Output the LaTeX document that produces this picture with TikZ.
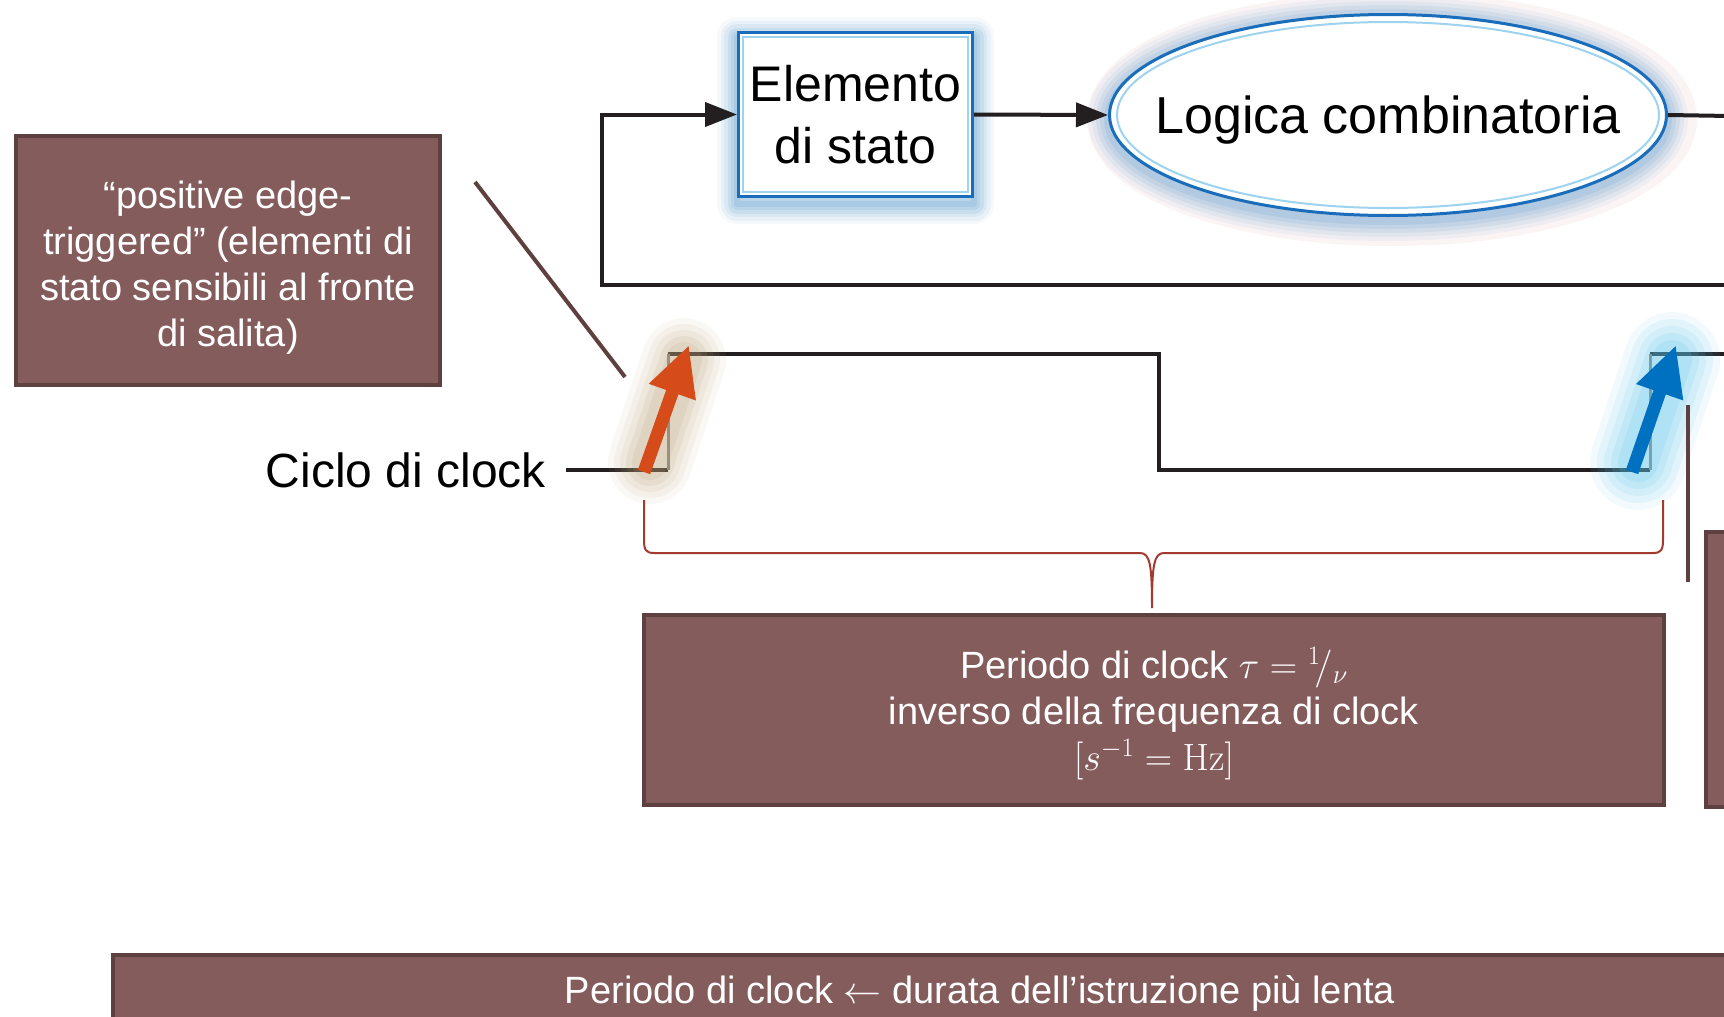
\RequirePackage{fix-cm}
\documentclass[tikz,border=0pt]{standalone}
\usepackage[no-math]{fontspec}
\setmainfont{Liberation Sans}
\usetikzlibrary{arrows.meta,shapes.geometric,calc}
\definecolor{boxfill}{HTML}{845C5C}
\definecolor{boxline}{HTML}{5E4040}
\definecolor{ink}{HTML}{231F20}
\definecolor{bluedark}{HTML}{1A6DBA}
\definecolor{bluelight}{HTML}{9ED3F0}
\definecolor{glowblue}{HTML}{5A9ACB}
\definecolor{glowpink}{HTML}{E0A8A8}
\definecolor{orangearr}{HTML}{D54B1A}
\definecolor{glowtan}{HTML}{BBA07A}
\definecolor{bluearr}{HTML}{0070C0}
\definecolor{glowcyan}{HTML}{5CC8F0}
\definecolor{bracered}{HTML}{A33A30}
\definecolor{edgegrey}{HTML}{8A8580}
\begin{document}
\begin{tikzpicture}[x=1pt,y=-1pt,
  note/.style={draw=boxline, fill=boxfill, line width=4pt, text=white, align=center,
    inner sep=0pt, font=\fontsize{38}{46}\selectfont},
  flow/.style={draw=ink, line width=4pt},
  arr/.style={flow, -{Triangle[length=32pt,width=24pt]}},
  wave/.style={draw=ink, line width=4pt, line join=miter},
  leader/.style={draw=boxline, line width=4pt},
  brace/.style={draw=bracered, line width=2pt},
  glowline/.style={line join=round, line cap=round},
  elembox/.style={draw=bluedark, line width=3pt, fill=white, minimum width=234pt,
    minimum height=164pt, inner sep=0pt, align=center, font=\fontsize{50}{62}\selectfont},
  logicshape/.style={ellipse, draw=bluedark, line width=3pt, fill=white,
    minimum width=557pt, minimum height=201pt, inner sep=0pt}
]
\useasboundingbox (0,0) rectangle (1724,1017);
\clip (0,0) rectangle (1724,1017);
\fill[white] (0,0) rectangle (1724,1017);

% glows of the upper shapes
\foreach \w/\o in {40/0.06,33/0.08,26/0.1,19/0.12,12/0.14,6/0.16}
  \draw[glowline, glowblue, opacity=\o, line width=\w pt] (737,37) rectangle (974,204);
\draw[glowpink, opacity=0.12, line width=50pt] (1392,119) ellipse [x radius=280, y radius=102];
\foreach \w/\o in {40/0.07,32/0.09,24/0.11,16/0.13,8/0.15}
  \draw[glowblue, opacity=\o, line width=\w pt] (1388,119) ellipse [x radius=280, y radius=102];

% state element and combinational logic
\node[elembox] (elem) at (855.5,114.5) {Elemento\\di stato};
\draw[bluelight, line width=2pt] ([shift={(6,6)}]elem.north west) rectangle ([shift={(-6,-6)}]elem.south east);
\node[logicshape] (logic) at (1388,115) {};
\draw[bluelight, line width=2pt] (logic.center) ellipse [x radius=271, y radius=93];
\node[font=\fontsize{52}{60}\selectfont, anchor=base, inner sep=0pt] (logictext) at (1388,133) {Logica combinatoria};

% data path connectors
\coordinate (fbR) at (1730,285);
\coordinate (fbL) at (602,285);
\coordinate (outR) at (1730,116);
\draw[arr] (fbR) -- (fbL) |- (elem.west);
\draw[arr] (elem.east) -- (logic.west);
\draw[flow] (logic.east) -- (outR);

% left note
\node[note, minimum width=424pt, minimum height=249pt] (note1) at (228,260.5)
  {\rule{0pt}{41pt}“positive edge-\\triggered” (elementi di\\stato sensibili al fronte\\di salita)};
\coordinate (ld1) at (475,182);
\coordinate (ld2) at (625,377);
\draw[leader] (ld1) -- (ld2);

% clock
\node[font=\fontsize{48}{56}\selectfont, anchor=base east, inner sep=0pt] (clk) at (546,487) {Ciclo di clock};
\coordinate (ck0) at (566,470);
\coordinate (ck1) at (668,470);
\coordinate (ck2) at (668,354);
\coordinate (ck3) at (1159,354);
\coordinate (ck4) at (1159,470);
\coordinate (ck5) at (1650,470);
\coordinate (ck6) at (1650,354);
\coordinate (ck7) at (1730,354);
\draw[wave] (ck0) -- (ck1);
\draw[wave] (ck2) -- (ck3) -- (ck4) -- (ck5);
\draw[wave] (ck6) -- (ck7);
\draw[edgegrey, line width=3pt] (ck1) -- (ck2);
\draw[edgegrey, line width=3pt] (ck5) -- (ck6);

% arrow glows
\foreach \w/\o in {84/0.07,72/0.09,60/0.11,48/0.13,36/0.15}
  \draw[glowtan, opacity=\o, line width=\w pt, line cap=round] (650,462) -- (684,360);
\foreach \w/\o in {96/0.08,82/0.1,68/0.12,54/0.14,40/0.16}
  \draw[glowcyan, opacity=\o, line width=\w pt, line cap=round] (1638,462) -- (1672,360);

% rising-edge arrows
\coordinate (oa1) at (644,472);
\coordinate (oa2) at (689,345);
\coordinate (ba1) at (1632,472);
\coordinate (ba2) at (1676,345);
\draw[orangearr, line width=13pt, -{Triangle[length=50pt,width=46pt]}] (oa1) -- (oa2);
\draw[bluearr, line width=13pt, -{Triangle[length=50pt,width=46pt]}] (ba1) -- (ba2);

% period box and brace
\node[note, minimum width=1020pt, minimum height=190pt] (pbox) at (1154,710)
  {\rule{0pt}{38pt}Periodo di clock $\tau = {}^{1}\!/_{\nu}$\\inverso della frequenza di clock\\$[s^{-1} = \mathrm{Hz}]$};
\draw[brace] (644,500) -- (644,540) .. controls (644,550) and (646,553) .. (654,553)
  -- (1140,553) .. controls (1150,553) and (1152,565) .. (1152,608)
  .. controls (1152,565) and (1154,553) .. (1164,553)
  -- (1653,553) .. controls (1661,553) and (1663,550) .. (1663,540) -- (1663,500);

% right box (cut by the border) and its leader
\node[note, minimum width=60pt, minimum height=275pt, anchor=north west] (rbox) at (1704,530) {};
\coordinate (rl1) at (1688,582);
\coordinate (rl2) at (1688,405);
\draw[leader] (rl1) -- (rl2);

% bottom box
\node[note, minimum width=1734pt, minimum height=76pt, anchor=north west] (bbox) at (111,953)
  {Periodo di clock $\leftarrow$ durata dell’istruzione più lenta};
\end{tikzpicture}
\end{document}
